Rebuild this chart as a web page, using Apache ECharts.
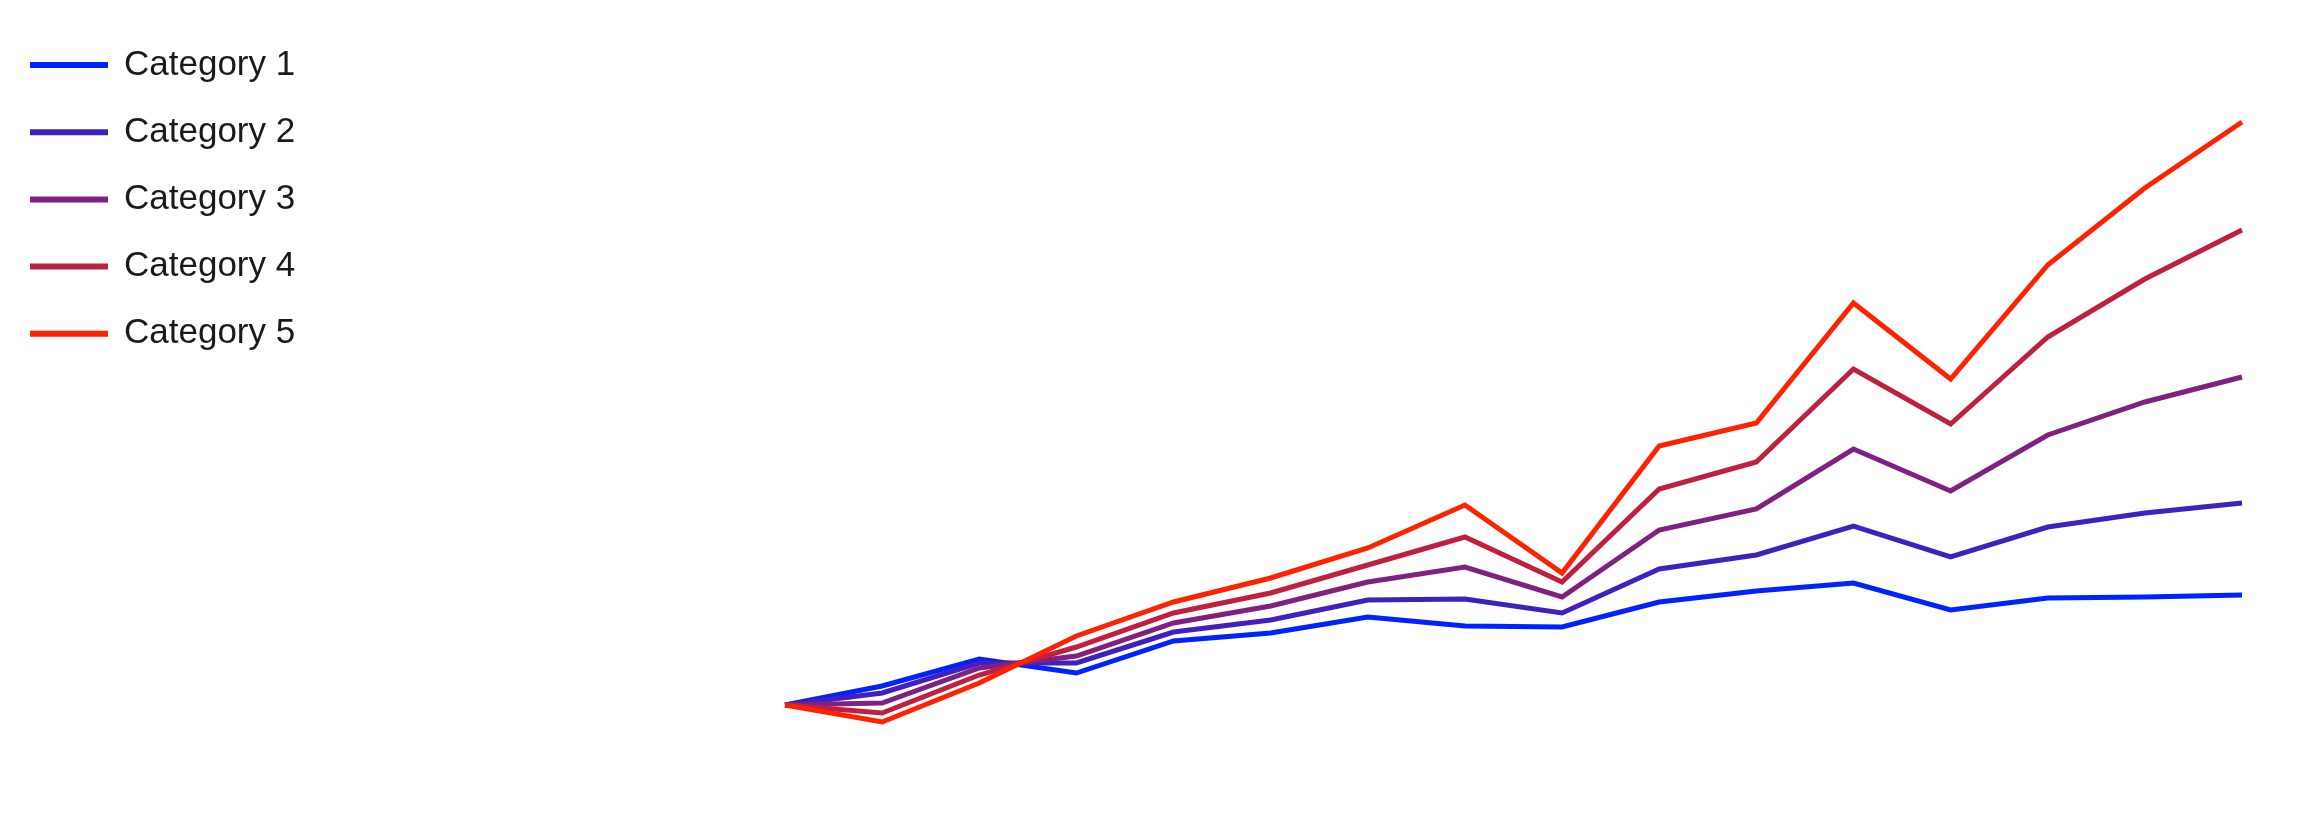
<!DOCTYPE html>
<html>
<head>
<meta charset="utf-8">
<script src="https://cdn.jsdelivr.net/npm/echarts@6/dist/echarts.min.js"></script>
<style>html,body{margin:0;padding:0;background:#fff}#chart{width:2310px;height:840px}</style>
</head>
<body>
<div id="chart"></div>
<script>
const categories = ['1','2','3','4','5','6','7','8','9','10','11','12','13','14','15','16'];
const seriesNames = ['Category 1','Category 2','Category 3','Category 4','Category 5'];
const category1 = [19.0, 22.8, 28.2, 25.4, 31.8, 33.4, 36.6, 34.8, 34.6, 39.6, 41.8, 43.4, 38.0, 40.4, 40.6, 41.0];
const category2 = [19.0, 21.4, 27.4, 27.4, 33.6, 36.0, 40.0, 40.2, 37.4, 46.2, 49.0, 54.8, 48.6, 54.6, 57.4, 59.4];
const category3 = [19.0, 19.4, 26.4, 28.8, 35.4, 38.8, 43.6, 46.6, 40.6, 54.0, 58.2, 70.2, 61.8, 73.0, 79.6, 84.6];
const category4 = [19.0, 17.4, 25.0, 30.6, 37.4, 41.4, 47.0, 52.6, 43.6, 62.2, 67.6, 86.2, 75.2, 92.6, 104.2, 114.0];
const category5 = [19.0, 15.6, 23.4, 32.8, 39.6, 44.4, 50.4, 59.0, 45.4, 70.8, 75.4, 99.4, 84.2, 107.0, 122.4, 135.6];
const colors = ['#0022ff', '#4020bf', '#802080', '#bf2040', '#ff2200'];
const allData = [category1, category2, category3, category4, category5];

const chart = echarts.init(document.getElementById('chart'), null, {renderer: 'canvas'});
chart.setOption({
  animation: false,
  backgroundColor: '#ffffff',
  color: colors,
  legend: {
    orient: 'vertical',
    left: 25,
    top: 40,
    icon: 'rect',
    itemWidth: 78,
    itemHeight: 6,
    itemGap: 27.2,
    data: seriesNames,
    textStyle: {
      fontFamily: 'Liberation Sans, Arial, sans-serif',
      fontSize: 35,
      lineHeight: 40,
      color: '#1a1a1a',
      padding: [0, 0, 0, 11]
    }
  },
  grid: {left: 785, right: 68, top: 100, bottom: 40, containLabel: false},
  xAxis: {
    type: 'category',
    data: categories,
    boundaryGap: false,
    show: false
  },
  yAxis: {
    type: 'value',
    min: 0,
    max: 140,
    show: false
  },
  series: seriesNames.map((name, i) => ({
    name: name,
    type: 'line',
    data: allData[i],
    showSymbol: false,
    symbol: 'none',
    lineStyle: {width: 5, color: colors[i], cap: 'butt', join: 'miter'},
    itemStyle: {color: colors[i]}
  }))
});
</script>
</body>
</html>
